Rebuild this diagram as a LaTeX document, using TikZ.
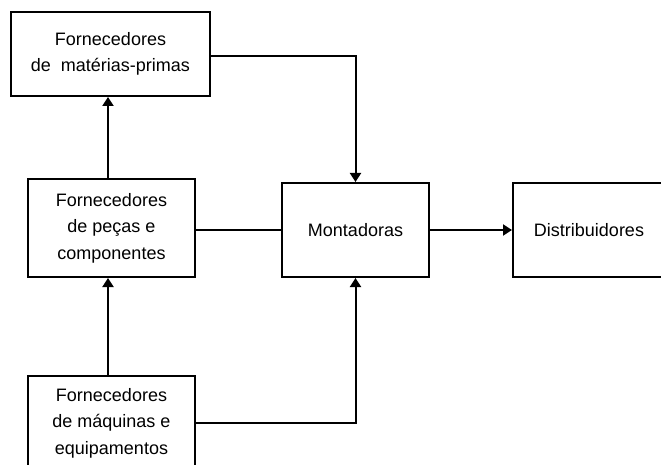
\documentclass[tikz,border=0pt]{standalone}
\usepackage{fontspec}
\setmainfont{Liberation Sans}
\usetikzlibrary{arrows.meta}
\begin{document}
\begin{tikzpicture}[x=1pt,y=-1pt,
  box/.style={draw, line width=2pt, rectangle, inner sep=0pt, align=center,
    font=\fontsize{18}{26.5}\selectfont},
  conn/.style={line width=2pt},
  arr/.style={conn, -{Triangle[width=11pt,length=9pt]}}]
\useasboundingbox (0,0) rectangle (661,465);
\begin{scope}
\clip (0,0) rectangle (661,465);
\node[box, minimum width=199pt, minimum height=84pt] (mp) at (110.5,54) {Fornecedores\\de~~matérias-primas};
\node[box, minimum width=167pt, minimum height=98pt] (pc) at (111.5,228) {Fornecedores\\de peças e\\componentes};
\node[box, minimum width=147pt, minimum height=94pt] (mo) at (355.5,230) {Montadoras};
\node[box, minimum width=152pt, minimum height=94pt] (di) at (589,230) {Distribuidores};
\node[box, minimum width=167pt, minimum height=94pt] (me) at (111.5,423) {Fornecedores\\de máquinas e\\equipamentos};
\draw[arr] ([yshift=-2pt]mp.east) -| (mo.north);
\draw[arr] ([xshift=-3.5pt]pc.north) -- ([xshift=-3.5pt]pc.north |- mp.south);
\draw[conn] (mo.west -| pc.east) -- (mo.west);
\draw[arr] (mo.east) -- (di.west);
\draw[arr] (me.east) -| (mo.south);
\draw[arr] ([xshift=-3.5pt]me.north) -- ([xshift=-3.5pt]me.north |- pc.south);
\end{scope}
\end{tikzpicture}
\end{document}
